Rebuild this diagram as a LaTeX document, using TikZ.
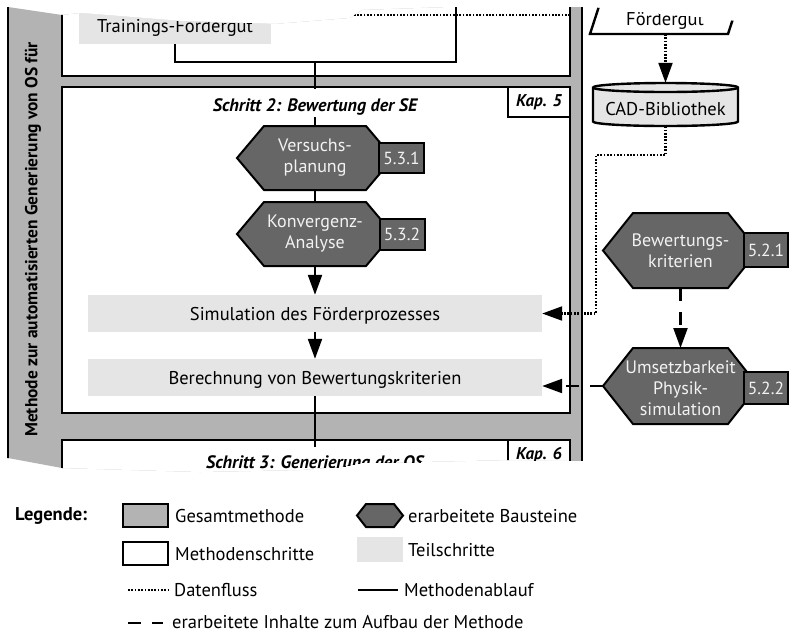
\documentclass[tikz,border=0pt]{standalone}
\usepackage{fontspec}
\setmainfont{PT Sans}
\usetikzlibrary{arrows.meta,calc}

\definecolor{gesamt}{RGB}{179,179,179}
\definecolor{baustein}{RGB}{102,102,102}
\definecolor{teil}{RGB}{229,229,229}
\definecolor{hexweiss}{RGB}{242,242,242}

\newcommand\fstext{\fontsize{18.5}{21}\selectfont}
\newcommand\fshex{\fontsize{18}{21}\selectfont}
\newcommand\fsleg{\fontsize{18.5}{21}\selectfont}

% hexagonal block "erarbeiteter Baustein": center, half width, half height, chamfer
\newcommand\bausteinform[4]{%
  \filldraw[hexform, shift={#1}] (-#2,0) -- ({-#2+#4},-#3) -- ({#2-#4},-#3) -- (#2,0)
    -- ({#2-#4},#3) -- ({-#2+#4},#3) -- cycle;}

\begin{document}
\begin{tikzpicture}[x=1pt,y=-1pt,
  rahmen/.style={draw=black, line width=2.5pt},
  teilschritt/.style={fill=teil, inner sep=0pt, minimum width=454pt, minimum height=37pt,
    text height=13pt, text depth=0pt, font=\fstext},
  hexform/.style={draw=black, line width=2pt, fill=baustein},
  hexinhalt/.style={text=hexweiss, align=center, inner sep=0pt, font=\fshex},
  nummer/.style={draw=black, line width=2pt, fill=baustein, text=hexweiss, inner sep=0pt,
    minimum width=45pt, font=\fontsize{17.5}{20}\selectfont},
  kapitel/.style={draw=black, line width=2pt, fill=white, inner sep=0pt, minimum width=62pt,
    minimum height=30pt, font=\bfseries\itshape\fontsize{17}{20}\selectfont},
  titel/.style={inner xsep=2pt, inner ysep=1pt, text depth=5pt,
    font=\bfseries\itshape\fontsize{18}{21}\selectfont},
  ablauf/.style={line width=2.2pt},
  datenfluss/.style={line width=2.1pt, dash pattern=on 1.7pt off 1.6pt},
  inhalt/.style={line width=2.2pt, dash pattern=on 13pt off 11pt},
  pfeil/.style={-{Triangle[length=20pt,width=14pt]}},
  legtext/.style={anchor=base west, inner sep=0pt, font=\fsleg}]

\useasboundingbox (0,0) rectangle (789,633);
\fill[white] (0,0) rectangle (789,633);

\begin{scope}
  % torn-off excerpt of the overall method
  \clip (0,7) -- (8,7) -- (62,15) -- (80,13) -- (130,17) -- (180,21) -- (275,24) -- (350,18)
    -- (362,10) -- (450,7) -- (590,7) -- (700,17) -- (745,22) -- (789,22) -- (789,461)
    -- (590,461) -- (510,460) -- (420,462) -- (360,463) -- (340,467) -- (300,470) -- (200,472)
    -- (62,468) -- (8,458) -- (0,458) -- cycle;

  % Gesamtmethode
  \filldraw[rahmen, fill=gesamt] (8,-20) rectangle (582,520);
  \node[rotate=90, anchor=west, inner sep=0pt, font=\bfseries\fontsize{17.4}{20}\selectfont]
    (methode) at (33,437) {Methode zur automatisierten Generierung von OS für};

  % Methodenschritte
  \filldraw[rahmen, fill=white] (62,-30) rectangle (570,76);
  \filldraw[rahmen, fill=white] (62,87) rectangle (570,413);
  \filldraw[rahmen, fill=white] (62,440) rectangle (570,520);
  \node[kapitel] (kap5) at (539,102) {Kap. 5};
  \node[kapitel] (kap6) at (539,455) {Kap. 6};

  % Schritt 1 (Rest)
  \node[teilschritt, minimum width=192pt] (training) at (175,25.5) {Trainings-Fördergut};
  \coordinate (oben) at (456,-5);
  \coordinate (knoten) at (315,62);
  \coordinate (dfA) at (570,15);
  \coordinate (dfB) at (352,15);

  % Schritt 2
  \node[titel, text height=21pt, anchor=base] (s2) at (315,111) {Schritt 2: Bewertung der SE};

  \bausteinform{(315,158)}{78}{32}{27}
  \node[hexinhalt, minimum width=156pt, minimum height=64pt] (vp) at (315,158) {Versuchs-\\planung};
  \node[nummer, minimum height=30pt] (vpn) at (401.5,158) {5.3.1};

  \bausteinform{(315,234)}{78}{32}{27}
  \node[hexinhalt, minimum width=156pt, minimum height=64pt] (ka) at (315,234) {Konvergenz-\\Analyse};
  \node[nummer, minimum height=31pt] (kan) at (402,234) {5.3.2};

  \node[teilschritt] (sim) at (315,313.5) {Simulation des Förderprozesses};
  \node[teilschritt] (ber) at (315,377.5) {Berechnung von Bewertungskriterien};

  % Schritt 3 (Anfang)
  \node[titel, text height=20pt, anchor=base] (s3) at (315,468) {Schritt 3: Generierung der OS};

  % Datenobjekte rechts
  \draw[line width=2.4pt] (590,34) -- (728,34) -- (741,-6) -- (603,-6) -- cycle;
  \node[anchor=base, inner sep=0pt, font=\fstext] (fgtext) at (665,25) {Fördergut};
  \coordinate (fg) at (665.5,34);

  \path[fill=teil] (593,87.5) -- (593,121.5) arc[start angle=180, end angle=0, x radius=72.5, y radius=4.5]
    -- (738,87.5) arc[start angle=0, end angle=-180, x radius=72.5, y radius=4.5] -- cycle;
  \draw[line width=2.4pt] (593,87.5) -- (593,121.5) arc[start angle=180, end angle=0, x radius=72.5, y radius=4.5]
    -- (738,87.5) arc[start angle=0, end angle=-180, x radius=72.5, y radius=4.5] -- cycle;
  \draw[line width=2.4pt] (738,87.5) arc[start angle=0, end angle=180, x radius=72.5, y radius=4.5];
  \node[inner sep=0pt, minimum width=145pt, minimum height=43pt, text height=21pt, text depth=0pt,
    font=\fstext] (cad) at (665.5,104.5) {CAD-Bibliothek};

  \bausteinform{(680.5,250.5)}{77.5}{37.5}{30}
  \node[hexinhalt, minimum width=155pt, minimum height=75pt] (bk) at (680.5,250.5) {Bewertungs-\\kriterien};
  \node[nummer, minimum width=44pt, minimum height=34pt] (bkn) at (766,250) {5.2.1};

  \bausteinform{(680.5,386)}{77.5}{38}{30}
  \node[hexinhalt, minimum width=155pt, minimum height=76pt] (us) at (680.5,388)
    {Umsetzbarkeit\\Physik-\\simulation};
  \coordinate (usw) at (603,386);
  \node[nummer, minimum width=44pt, minimum height=32pt] (usn) at (766,388) {5.2.2};

  % Methodenablauf
  \draw[ablauf] (training.south) |- (knoten) -- (knoten -| oben) -- (oben);
  \draw[ablauf] (knoten) -- (s2.north);
  \draw[ablauf] (s2.south) -- (vp.north);
  \draw[ablauf] (vp.south) -- (ka.north);
  \draw[ablauf, pfeil] (ka.south) -- (sim.north);
  \draw[ablauf, pfeil] (sim.south) -- (ber.north);
  \draw[ablauf] (ber.south) -- (s3.north);

  % Datenfluss
  \draw[datenfluss] (dfA) -- (dfB);
  \draw[datenfluss, pfeil] (fg) -- (cad.north);
  \draw[datenfluss, pfeil] (cad.south) -- ++(0,29) -| (596,313.5) -- (sim.east);

  % erarbeitete Inhalte
  \draw[inhalt, pfeil] (bk.south) -- (us.north |- 0,348);
  \draw[inhalt, pfeil] (usw) -- (usw -| sim.east);
\end{scope}

% Legende
\node[anchor=base west, inner sep=0pt, font=\bfseries\fsleg] (legende) at (15,520) {Legende:};

\node[draw=black, line width=2.4pt, fill=gesamt, minimum width=45pt, minimum height=23pt, inner sep=0pt]
  (lgesamt) at (145.5,515.5) {};
\node[legtext] (tgesamt) at (175,522) {Gesamtmethode};

\node[draw=black, line width=2.4pt, fill=white, minimum width=45pt, minimum height=23pt, inner sep=0pt]
  (lschritt) at (145.5,553.5) {};
\node[legtext] (tschritt) at (175,560) {Methodenschritte};

\coordinate (ldfA) at (128,590);
\coordinate (ldfB) at (170,590);
\draw[datenfluss] (ldfA) -- (ldfB);
\node[legtext] (tdf) at (174,596) {Datenfluss};

\coordinate (linA) at (128,623);
\coordinate (linB) at (163,623);
\draw[inhalt] (linA) -- (linB);
\node[legtext] (tin) at (172,628.5) {erarbeitete Inhalte zum Aufbau der Methode};

\bausteinform{(380,515.5)}{23}{11.5}{9}
\node[inner sep=0pt, minimum width=46pt, minimum height=23pt] (lbaustein) at (380,515.5) {};
\node[legtext] (tbaustein) at (408,522) {erarbeitete Bausteine};

\node[fill=teil, inner sep=0pt, minimum width=46pt, minimum height=25pt] (lteil) at (380,549.5) {};
\node[legtext] (tteil) at (408,556.7) {Teilschritte};

\coordinate (labA) at (358,590);
\coordinate (labB) at (398,590);
\draw[ablauf] (labA) -- (labB);
\node[legtext] (tab) at (404,596) {Methodenablauf};
\end{tikzpicture}
\end{document}
